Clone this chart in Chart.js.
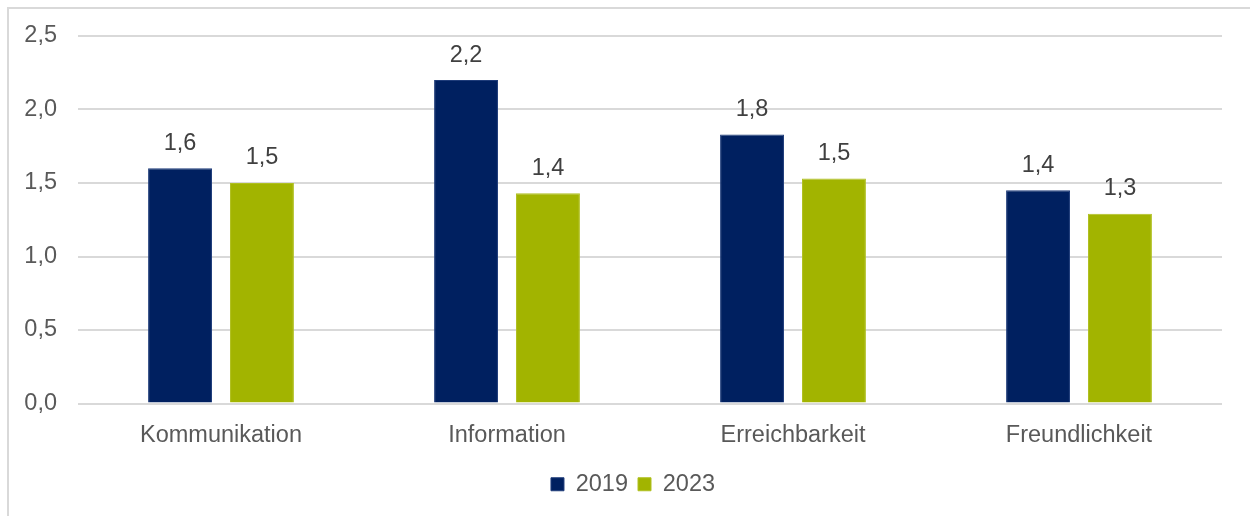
<!DOCTYPE html>
<html>
<head>
<meta charset="utf-8">
<script src="https://cdn.jsdelivr.net/npm/chart.js@4/dist/chart.umd.min.js"></script>
<style>
  html, body { margin: 0; padding: 0; background: #fff; overflow: hidden; }
  #frame { position: absolute; left: 7px; top: 7px; width: 1260px; height: 530px;
           border-left: 2px solid #d9d9d9; border-top: 2px solid #d9d9d9; }
  #wrap { position: absolute; left: 0; top: 0; width: 1250px; height: 516px; }
</style>
</head>
<body>
<div id="frame"></div>
<div id="wrap"><canvas id="chart"></canvas></div>
<script>
// Chart data
const categories = ['Kommunikation', 'Information', 'Erreichbarkeit', 'Freundlichkeit'];
const values2019 = [1.6, 2.2, 1.83, 1.45];
const values2023 = [1.5, 1.43, 1.53, 1.29];
const yTicks = [0, 0.5, 1.0, 1.5, 2.0, 2.5];

const fmt = v => v.toFixed(1).replace('.', ',');

// Labels above each bar
const valueLabels = {
    id: 'valueLabels',
    afterDatasetsDraw(chart) {
        const ctx = chart.ctx;
        ctx.save();
        ctx.font = '23.5px "Liberation Sans", Arial, sans-serif';
        ctx.fillStyle = '#404040';
        ctx.textAlign = 'center';
        ctx.textBaseline = 'middle';
        chart.data.datasets.forEach((ds, i) => {
            chart.getDatasetMeta(i).data.forEach((bar, j) => {
                ctx.fillText(fmt(ds.data[j]), bar.x, bar.y - 25);
            });
        });
        ctx.restore();
    }
};

// nudge the legend a bit to the right, like the original
const legendShift = {
    id: 'legendShift',
    afterLayout(chart) {
        if (chart.legend) {
            chart.legend.left += 22;
            chart.legend.right += 22;
        }
    }
};

Chart.defaults.font.family = '"Liberation Sans", Arial, sans-serif';
Chart.defaults.font.size = 23.5;
Chart.defaults.color = '#595959';

new Chart(document.getElementById('chart'), {
    type: 'bar',
    data: {
        labels: categories,
        datasets: [
            {
                label: '2019',
                data: values2019,
                backgroundColor: '#002060',
                borderColor: '#1f3c7a',
                borderWidth: 1
            },
            {
                label: '2023',
                data: values2023,
                backgroundColor: '#a2b400',
                borderColor: '#b0c020',
                borderWidth: 1
            }
        ]
    },
    options: {
        responsive: true,
        maintainAspectRatio: false,
        animation: false,
        categoryPercentage: 0.573,
        barPercentage: 0.78,
        layout: { padding: { left: 0, right: 28, top: 36, bottom: 10 } },
        plugins: {
            legend: {
                position: 'bottom',
                labels: {
                    boxWidth: 13,
                    boxHeight: 13,
                    padding: 10,
                    color: '#595959',
                    font: { size: 23.5 }
                }
            },
            tooltip: { enabled: false }
        },
        scales: {
            x: {
                grid: { display: false, drawTicks: false },
                border: { display: false },
                ticks: { padding: 18, color: '#595959' },
                afterFit: s => { s.height = 59; }
            },
            y: {
                min: 0,
                max: 2.5,
                afterBuildTicks: s => { s.ticks = yTicks.map(v => ({ value: v })); },
                ticks: {
                    padding: 21,
                    color: '#595959',
                    callback: v => fmt(v)
                },
                grid: { color: '#d9d9d9', lineWidth: 2, drawTicks: false },
                border: { display: false },
                afterFit: s => { s.width = 78; }
            }
        }
    },
    plugins: [valueLabels, legendShift]
});
</script>
</body>
</html>
